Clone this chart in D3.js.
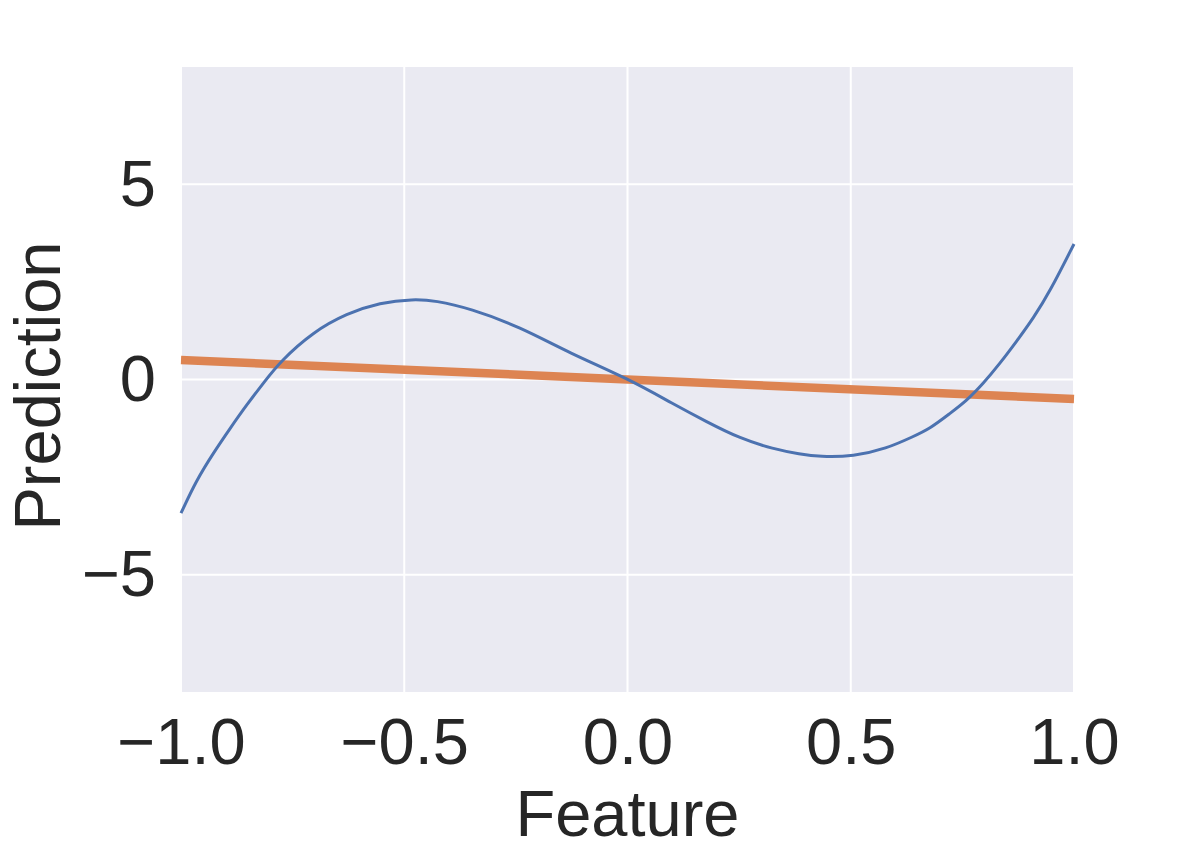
<!DOCTYPE html>
<html>
<head>
<meta charset="utf-8">
<script src="https://cdn.jsdelivr.net/npm/d3@7"></script>
<style>
  body { margin: 0; background: #fff; }
  text { font-family: "Liberation Sans", Arial, sans-serif; fill: #262626; }
</style>
</head>
<body>
<div id="chart"></div>
<script>
(function() {
  var margin = { top: 67, left: 181, right: 122, bottom: 162 },
    width = 1196 - margin.left - margin.right,
    height = 854 - margin.top - margin.bottom;

  // values
  var xTicks = [-1.0, -0.5, 0.0, 0.5, 1.0];
  var yTicks = [-5, 0, 5];

  var curveX = [-1.0, -0.965, -0.928, -0.89, -0.853, -0.816, -0.778, -0.704, -0.629, -0.554, -0.48,
                -0.43, -0.353, -0.241, -0.129, 0.0, 0.103, 0.177, 0.252, 0.327, 0.386, 0.431,
                0.506, 0.58, 0.64, 0.677, 0.722, 0.759, 0.797, 0.834, 0.871, 0.909, 0.946, 1.0];
  var curveY = [-3.42, -2.57, -1.89, -1.25, -0.65, -0.10, 0.46, 1.22, 1.69, 1.97, 2.06,
                2.02, 1.82, 1.35, 0.67, 0.03, -0.63, -1.08, -1.51, -1.78, -1.91, -1.98,
                -1.97, -1.77, -1.46, -1.26, -0.87, -0.55, -0.10, 0.41, 0.97, 1.57, 2.25, 3.47];

  var lineX = [-1.0, 1.0];
  var lineY = [0.5, -0.5];

  var svg = d3.select("#chart")
    .append("svg")
    .attr("width", width + margin.left + margin.right)
    .attr("height", height + margin.top + margin.bottom)
    .append("g")
    .attr("transform", "translate(" + margin.left + "," + margin.top + ")");

  var x = d3.scaleLinear().domain([-1, 1]).range([0, width]);
  var y = d3.scaleLinear().domain([-8, 8]).range([height, 0]);

  svg.append("rect")
    .attr("width", width)
    .attr("height", height)
    .attr("fill", "#eaeaf2");

  // grid
  svg.selectAll(".vgrid")
    .data(xTicks)
    .enter().append("line")
    .attr("class", "vgrid")
    .attr("x1", function(d) { return x(d); })
    .attr("x2", function(d) { return x(d); })
    .attr("y1", 0)
    .attr("y2", height)
    .attr("stroke", "#fff")
    .attr("stroke-width", 2);

  svg.selectAll(".hgrid")
    .data(yTicks)
    .enter().append("line")
    .attr("class", "hgrid")
    .attr("x1", 0)
    .attr("x2", width)
    .attr("y1", function(d) { return y(d); })
    .attr("y2", function(d) { return y(d); })
    .attr("stroke", "#fff")
    .attr("stroke-width", 2);

  var fmt = function(d) { return d3.format(".1f")(d).replace("-", "\u2212"); };

  var xAxis = svg.append("g")
    .attr("transform", "translate(0," + height + ")")
    .call(d3.axisBottom(x).tickValues(xTicks).tickSize(0).tickPadding(26).tickFormat(fmt));

  var yAxis = svg.append("g")
    .call(d3.axisLeft(y).tickValues(yTicks).tickSize(0).tickPadding(25)
      .tickFormat(function(d) { return String(d).replace("-", "\u2212"); }));

  [xAxis, yAxis].forEach(function(a) {
    a.select(".domain").remove();
    a.selectAll("text")
      .attr("font-family", "Liberation Sans, Arial, sans-serif")
      .attr("font-size", 65)
      .attr("fill", "#262626");
  });

  var lineGen = d3.line()
    .x(function(d) { return x(d[0]); })
    .y(function(d) { return y(d[1]); });

  svg.append("path")
    .datum(d3.zip(lineX, lineY))
    .attr("d", lineGen)
    .attr("fill", "none")
    .attr("stroke", "#dd8452")
    .attr("stroke-width", 8.5);

  svg.append("path")
    .datum(d3.zip(curveX, curveY))
    .attr("d", lineGen.curve(d3.curveBasis))
    .attr("fill", "none")
    .attr("stroke", "#4c72b0")
    .attr("stroke-width", 3);

  svg.append("text")
    .attr("x", width / 2)
    .attr("y", 836 - margin.top)
    .attr("text-anchor", "middle")
    .attr("font-size", 65)
    .text("Feature");

  svg.append("text")
    .attr("transform", "translate(" + (60 - margin.left) + "," + (386 - margin.top) + ") rotate(-90)")
    .attr("text-anchor", "middle")
    .attr("font-size", 65)
    .text("Prediction");
})();
</script>
</body>
</html>
